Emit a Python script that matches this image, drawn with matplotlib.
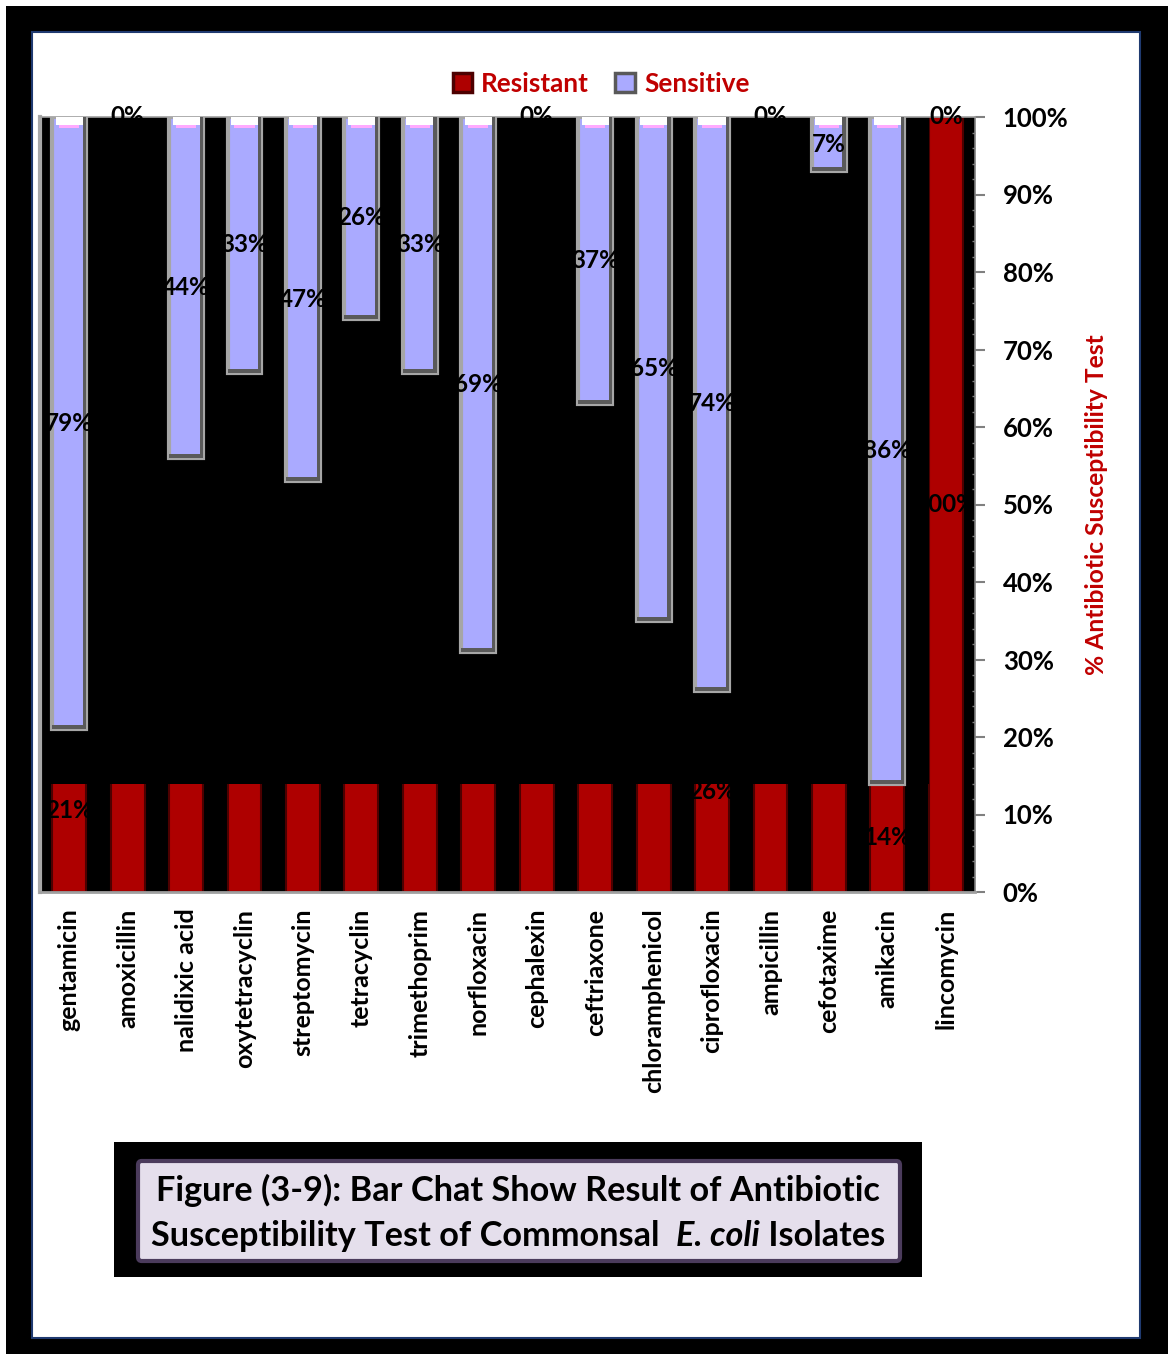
import numpy as np
import matplotlib
matplotlib.use("Agg")
from matplotlib import pyplot as plt
from matplotlib.patches import Rectangle, FancyBboxPatch
from matplotlib.ticker import MultipleLocator, FuncFormatter

antibiotics = [
    "gentamicin", "amoxicillin", "nalidixic acid", "oxytetracyclin",
    "streptomycin", "tetracyclin", "trimethoprim", "norfloxacin",
    "cephalexin", "ceftriaxone", "chloramphenicol", "ciprofloxacin",
    "ampicillin", "cefotaxime", "amikacin", "lincomycin",
]
resistant = [21, 100, 56, 67, 53, 74, 67, 31, 100, 63, 35, 26, 100, 93, 14, 100]
sensitive = [79, 0, 44, 33, 47, 26, 33, 69, 0, 37, 65, 74, 0, 7, 86, 0]

RED = "#AE0000"
RED_EDGE = "#4D0000"
LAVENDER = "#AAAAFF"
TEXT_RED = "#C00000"

W, H = 1168, 1354

plt.rcParams["font.family"] = ["Lato", "DejaVu Sans"]
plt.rcParams["font.weight"] = "bold"

fig = plt.figure(figsize=(W / 100, H / 100), dpi=100)

# page frame: thick black border, white sheet with thin navy edge
fig.patches.append(Rectangle((6 / W, 0), 1 - 6 / W, 1 - 6 / H, transform=fig.transFigure,
                             facecolor="black", edgecolor="none", zorder=-3))
fig.patches.append(Rectangle((32 / W, 16 / H), (1140 - 32) / W, (1338 - 32) / H,
                             transform=fig.transFigure, facecolor="white",
                             edgecolor="#1F3A70", lw=1.5, zorder=-2))

ax = fig.add_axes([40 / W, 1 - 892 / H, 935 / W, 775 / H])
ax.set_facecolor("black")

x = np.arange(len(antibiotics))
width = 0.58

res_bars = ax.bar(x, resistant, width, color=RED, edgecolor=RED_EDGE, lw=1.5, zorder=1)

# dark band laid over the resistant columns above the lowest resistant share
floor = min(resistant)
mask_right = res_bars[-1].get_x()
ax.add_patch(Rectangle((-0.5, floor), mask_right + 0.5, 100 - floor,
                       facecolor="black", edgecolor="none", zorder=2))

sens_bars = ax.bar(x, sensitive, width, bottom=resistant, color=LAVENDER,
                   edgecolor="#A6A6A6", lw=3, zorder=3)
for bar, s in zip(sens_bars, sensitive):
    if s == 0:
        bar.set_visible(False)
        continue
    # bevelled look: dark right/bottom edge, white and pink band at the top
    bx, bw = bar.get_x(), bar.get_width()
    by, bh = bar.get_y(), bar.get_height()
    top = by + bh
    ax.add_patch(Rectangle((bx + bw * 0.9, by), bw * 0.1, bh,
                           facecolor="#5A5A5A", edgecolor="none", zorder=3.4))
    ax.add_patch(Rectangle((bx, by), bw, 0.5,
                           facecolor="#5A5A5A", edgecolor="none", zorder=3.4))
    ax.add_patch(Rectangle((bx + bw * 0.1, top - 1.0), bw * 0.8, 1.0,
                           facecolor="white", edgecolor="none", zorder=3.5))
    ax.add_patch(Rectangle((bx + bw * 0.2, top - 1.4), bw * 0.6, 0.4,
                           facecolor="#FFAAFF", edgecolor="none", zorder=3.5))

for i, (r, s) in enumerate(zip(resistant, sensitive)):
    ax.text(x[i], r / 2, f"{r}%", ha="center", va="center", fontsize=17.5,
            fontweight="bold", color="black", zorder=1.5)
    ax.text(x[i], r + s / 2, f"{s}%", ha="center", va="center", fontsize=17.5,
            fontweight="bold", color="black", zorder=4, clip_on=False)

ax.set_xlim(-0.5, len(antibiotics) - 0.5)
ax.set_ylim(0, 100)

ax.set_xticks(x)
ax.set_xticklabels(antibiotics, rotation=90, fontsize=18, fontweight="bold")
ax.tick_params(axis="x", length=0, pad=12)

ax.yaxis.tick_right()
ax.yaxis.set_label_position("right")
ax.yaxis.set_major_locator(MultipleLocator(10))
ax.yaxis.set_minor_locator(MultipleLocator(2))
ax.yaxis.set_major_formatter(FuncFormatter(lambda v, _: f"{v:.0f}%"))
ax.tick_params(axis="y", which="major", length=7, width=1.5, color="#808080",
               labelsize=18.5, pad=13)
ax.tick_params(axis="y", which="minor", direction="in", length=2, width=1,
               color="#808080")
for lbl in ax.get_yticklabels():
    lbl.set_fontweight("bold")
ax.set_ylabel("% Antibiotic Susceptibility Test", color=TEXT_RED, fontsize=17.7,
              fontweight="bold", labelpad=12)

ax.spines["left"].set_color("#A8A8A8")
ax.spines["left"].set_linewidth(3)
ax.spines["top"].set_color("#A0A0A0")
ax.spines["top"].set_linewidth(1.2)
ax.spines["bottom"].set_color("#A0A0A0")
ax.spines["bottom"].set_linewidth(2)
ax.spines["right"].set_color("#808080")
ax.spines["right"].set_linewidth(1.2)

handles = [
    Rectangle((0, 0), 1, 1, facecolor=RED, edgecolor=RED_EDGE, lw=2.5),
    Rectangle((0, 0), 1, 1, facecolor=LAVENDER, edgecolor="#595959", lw=2.5),
]
leg = fig.legend(handles, ["Resistant", "Sensitive"], loc="center",
                 bbox_to_anchor=(601 / W, 1 - 84 / H), ncol=2, frameon=False,
                 handlelength=0.75, handleheight=0.75, handletextpad=0.35,
                 columnspacing=1.0, prop={"size": 18.8, "weight": "bold"})
for t in leg.get_texts():
    t.set_color(TEXT_RED)

# caption block
fig.patches.append(Rectangle((114 / W, 1 - 1277 / H), 808 / W, 135 / H,
                             transform=fig.transFigure, facecolor="black",
                             edgecolor="none", zorder=1))
fig.patches.append(FancyBboxPatch((138 / W, 1 - 1261 / H), 762 / W, 100 / H,
                                  boxstyle="round,pad=0,rounding_size=0.003",
                                  transform=fig.transFigure, facecolor="#E5DFEC",
                                  edgecolor="#4B3B5C", lw=3, zorder=2))

cx = 518 / W
fig.text(cx, 1 - 1190 / H, "Figure (3-9): Bar Chat Show Result of Antibiotic",
         ha="center", va="center", fontsize=24.7, fontweight="bold", zorder=3)

parts = [("Susceptibility Test of Commonsal  ", "normal"),
         ("E. coli", "italic"),
         (" Isolates", "normal")]
line_y = 1 - 1236 / H
pieces = [fig.text(0, line_y, s, ha="left", va="center", fontsize=24.7,
                   fontweight="bold", style=st, zorder=3) for s, st in parts]
fig.canvas.draw()
renderer = fig.canvas.get_renderer()
widths = [p.get_window_extent(renderer).width / W for p in pieces]
start = cx - sum(widths) / 2
for p, w in zip(pieces, widths):
    p.set_x(start)
    start += w

fig.savefig("out.png", dpi=100, facecolor="white")
